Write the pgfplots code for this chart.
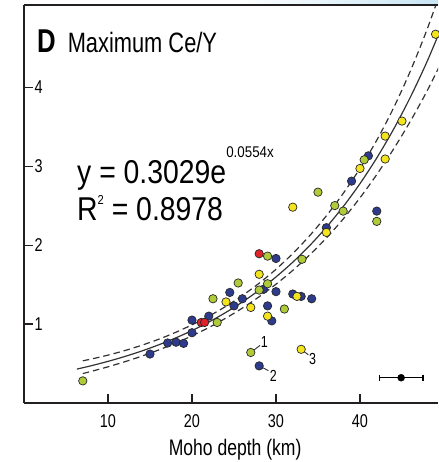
\documentclass[border=0pt]{standalone}
\usepackage{fontspec}
\setmainfont{Liberation Sans}[FakeStretch=0.78]
\newfontfamily\eqfont{Liberation Sans}[FakeStretch=0.86]
\usepackage{pgfplots}
\pgfplotsset{compat=1.18}

\definecolor{cyel}{HTML}{F3E41E}
\definecolor{cgrn}{HTML}{AFCB3A}
\definecolor{cblu}{HTML}{2E3B8C}
\definecolor{cred}{HTML}{E0222B}
\definecolor{axcol}{HTML}{231F20}
\definecolor{fitcol}{HTML}{333333}

\begin{document}
\begin{tikzpicture}
\begin{axis}[
  scale only axis, width=414pt, height=398pt,
  xmin=0, xmax=49.29, ymin=0, ymax=5.04,
  axis lines=left, axis line style={-, line width=1.1pt, color=axcol},
  xtick={10,20,30,40}, ytick={1,2,3,4},
  tick align=inside, major tick length=9pt,
  tick style={line width=1.1pt, color=axcol},
  /pgf/number format/assume math mode=true,
  ticklabel style={font=\fontsize{18.5}{18.5}\selectfont, inner sep=0pt},
  yticklabel style={anchor=west, xshift=10.5pt},
  xticklabel style={anchor=north, yshift=-11pt},
  xlabel={Moho depth (km)},
  xlabel style={font=\fontsize{22.5}{22.5}\selectfont, at={(axis description cs:0.51,0)}, anchor=base, yshift=-52pt},
  clip mode=individual,
  mymark/.style={only marks, mark=*, mark size=4.2pt, mark options={draw=black!85, line width=0.7pt, fill=#1}},
]
% fit and confidence band
\addplot[fitcol, line width=1.2pt, smooth] coordinates {
 (6.3,0.4294) (8,0.4718) (10,0.5271) (12,0.5889) (14,0.6579) (16,0.7350)
 (18,0.8211) (20,0.9173) (22,1.0248) (24,1.1448) (26,1.2789) (28,1.4288)
 (30,1.5962) (32,1.7832) (34,1.9922) (36,2.2256) (38,2.4864) (40,2.7777)
 (42,3.1031) (44,3.4667) (46,3.8729) (48,4.3267) (50,4.8339)};
\addplot[fitcol, line width=1.2pt, smooth, dash pattern=on 6.5pt off 4pt] coordinates {
 (7,0.5344) (8,0.5564) (10,0.6063) (12,0.6640) (14,0.7307) (16,0.8059)
 (18,0.8921) (20,0.9898) (22,1.0991) (24,1.2217) (26,1.3608) (28,1.5171)
 (30,1.6932) (32,1.8934) (34,2.1175) (36,2.3703) (38,2.6535) (40,2.9702)
 (42,3.3281) (44,3.7368) (46,4.2040) (48,4.7343) (50,5.3318)};
\addplot[fitcol, line width=1.2pt, smooth, dash pattern=on 6.5pt off 4pt] coordinates {
 (7,0.3729) (8,0.4000) (10,0.4583) (12,0.5223) (14,0.5923) (16,0.6704)
 (18,0.7557) (20,0.8502) (22,0.9555) (24,1.0728) (26,1.2020) (28,1.3456)
 (30,1.5047) (32,1.6794) (34,1.8743) (36,2.0896) (38,2.3300) (40,2.5977)
 (42,2.8933) (44,3.2161) (46,3.5681) (48,3.9542) (50,4.3824)};
% leader lines of the numbered samples
\draw[fitcol, line width=0.9pt] (axis cs:27.0,0.64) -- (axis cs:28.1,0.73);
\draw[fitcol, line width=0.9pt] (axis cs:28.0,0.47) -- (axis cs:29.1,0.41);
\draw[fitcol, line width=0.9pt] (axis cs:33.0,0.68) -- (axis cs:33.85,0.61);
% samples
\addplot[mymark=cblu] coordinates {
 (15.0,0.62) (17.1,0.76) (18.1,0.77) (19.0,0.755) (20.0,0.89) (20.0,1.05)
 (22.0,1.10) (24.5,1.40) (25.0,1.23) (26.0,1.32) (30.0,1.83) (28.5,1.44)
 (30.0,1.41) (29.0,1.23) (29.5,1.04) (32.0,1.38) (33.0,1.35) (34.25,1.32)
 (28.0,0.47) (36.0,2.22) (39.0,2.81) (41.0,3.13) (42.0,2.43)};
\addplot[mymark=cgrn] coordinates {
 (7.0,0.28) (23.0,1.02) (22.5,1.32) (25.5,1.52) (29.0,1.86) (29.0,1.51)
 (28.0,1.43) (31.0,1.19) (33.1,1.82) (27.0,0.64) (35.0,2.67) (37.0,2.50)
 (38.0,2.43) (42.0,2.30) (40.5,3.08)};
\addplot[mymark=cyel] coordinates {
 (24.05,1.28) (27.0,1.21) (28.0,1.63) (29.0,1.10) (32.5,1.35) (36.0,2.16)
 (33.0,0.68) (32.0,2.48) (40.0,2.97) (43.0,3.38) (43.0,3.09) (45.0,3.57)
 (49.0,4.67)};
\addplot[mymark=cred] coordinates {(21.1,1.02) (21.5,1.02) (28.0,1.89)};
% typical uncertainty
\addplot[only marks, mark=*, mark size=3.5pt, black,
  error bars/.cd, x dir=both, x explicit,
  error bar style={line width=1.1pt, black},
  error mark options={mark size=3pt, line width=1.1pt, black, rotate=90}]
  coordinates {(44.9,0.32) +- (2.6,0)};
% texts
\node[anchor=base west, inner sep=0pt] at (axis cs:1.55,4.44)
  {\fontsize{33}{33}\selectfont\bfseries D\hspace{12pt}\fontsize{28}{28}\selectfont\mdseries Maximum Ce/Y};
\node[anchor=base west, inner sep=0pt] at (axis cs:6.31,2.785)
  {\eqfont\fontsize{33}{33}\selectfont y = 0.3029e\raisebox{26pt}{\fontsize{15.5}{15.5}\selectfont 0.0554x}};
\node[anchor=base west, inner sep=0pt] at (axis cs:6.31,2.316)
  {\eqfont\fontsize{33}{33}\selectfont R\raisebox{16pt}{\fontsize{13}{13}\selectfont 2} = 0.8978};
\node[inner sep=0pt, font=\fontsize{16}{16}\selectfont] at (axis cs:28.6,0.77) {1};
\node[inner sep=0pt, font=\fontsize{16}{16}\selectfont] at (axis cs:29.7,0.345) {2};
\node[inner sep=0pt, font=\fontsize{16}{16}\selectfont] at (axis cs:34.37,0.553) {3};
\end{axis}
\shade[left color=white, right color={rgb,255:red,200;green,230;blue,244}]
  ([xshift=-200pt]current axis.north east) rectangle ([yshift=5pt]current axis.north east);
\draw[line width=1.1pt, axcol] (current axis.north west) -- (current axis.north east);
\pgfresetboundingbox
\path ([shift={(-24pt,-59pt)}]current axis.south west) rectangle ([shift={(0pt,5pt)}]current axis.north east);
\end{tikzpicture}
\end{document}
